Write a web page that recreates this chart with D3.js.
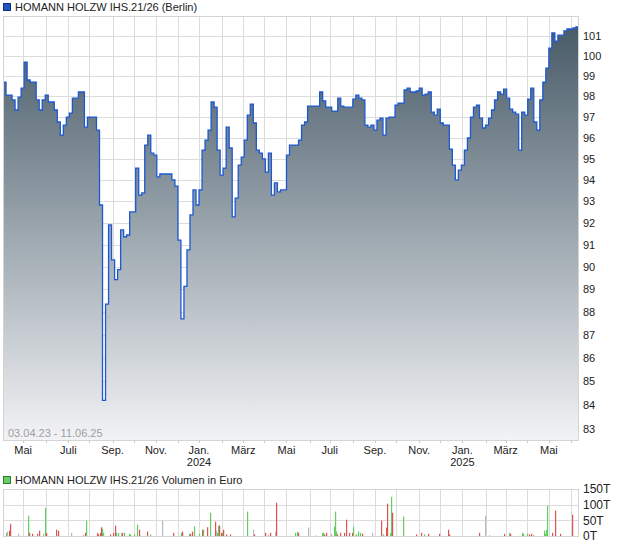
<!DOCTYPE html>
<html>
<head>
<meta charset="utf-8">
<script src="https://cdn.jsdelivr.net/npm/d3@7"></script>
<style>
body { margin: 0; background: #fff; }
text { font-family: "Liberation Sans", Arial, sans-serif; font-size: 11px; fill: #222; }
</style>
</head>
<body>
<script>
// chart data
const title = "HOMANN HOLZW IHS.21/26 (Berlin)";
const volTitle = "HOMANN HOLZW IHS.21/26 Volumen in Euro";
const rangeLabel = "03.04.23 - 11.06.25";
const startDate = new Date(2023, 3, 3);
const endDate = new Date(2025, 5, 11);
const monthNames = ["Jan.", "Feb.", "März", "Apr.", "Mai", "Juni", "Juli", "Aug.", "Sep.", "Okt.", "Nov.", "Dez."];
const priceTicks = [83, 84, 85, 86, 87, 88, 89, 90, 91, 92, 93, 94, 95, 96, 97, 98, 99, 100, 101];
const volTicks = [0, 50, 100, 150];
const volTickLabels = ["0T", "50T", "100T", "150T"];

// one closing price every 3 trading days
const priceStep = 3;
const prices = [
  98.71, 98.07, 98.07, 97.83, 97.34, 97.97, 98.41, 99.70, 98.81, 98.71,
  98.71, 97.83, 97.34, 97.83, 98.07, 97.73, 97.73, 97.34, 96.76, 96.13,
  96.61, 97.00, 97.19, 97.92, 97.92, 98.22, 98.22, 96.51, 97.00, 97.00,
  97.00, 96.37, 92.83, 84.20, 88.35, 91.91, 90.32, 89.43, 89.88, 91.68,
  91.37, 91.45, 92.51, 92.51, 94.56, 93.29, 93.39, 95.65, 96.13, 95.27,
  95.17, 94.14, 94.28, 94.28, 94.28, 94.28, 94.00, 93.71, 91.22, 87.70,
  89.13, 90.77, 92.37, 93.53, 92.83, 93.53, 95.41, 95.89, 96.37, 97.73,
  97.48, 95.41, 94.23, 94.56, 96.51, 95.51, 92.28, 93.15, 94.70, 95.08,
  95.89, 97.09, 97.63, 96.71, 95.41, 95.27, 94.99, 94.37, 95.27, 93.29,
  93.86, 93.44, 93.53, 93.53, 95.17, 95.65, 95.65, 95.65, 95.89, 96.61,
  96.76, 97.53, 97.53, 97.53, 97.53, 98.22, 97.78, 97.48, 97.48, 97.29,
  97.29, 97.92, 97.53, 97.48, 97.48, 97.48, 97.87, 98.07, 97.92, 97.83,
  96.61, 96.51, 96.61, 96.37, 96.85, 96.95, 96.13, 96.95, 97.00, 97.00,
  97.58, 97.68, 97.68, 98.32, 98.41, 98.22, 98.22, 98.27, 98.41, 98.07,
  98.12, 98.22, 97.24, 97.09, 97.38, 96.71, 96.61, 96.61, 95.46, 94.70,
  94.00, 94.46, 94.70, 95.41, 95.99, 97.00, 97.48, 97.58, 96.95, 96.47,
  96.61, 96.95, 97.34, 97.83, 98.22, 98.12, 98.36, 97.92, 97.38, 97.24,
  97.14, 95.41, 97.24, 97.09, 97.87, 98.41, 96.76, 96.37, 97.83, 98.71,
  99.40, 100.40, 101.16, 100.75, 101.05, 101.05, 101.26, 101.36, 101.36, 101.41,
  101.46
];

// volume: trading day number, thousand euro, direction (1 up, -1 down, 0 unchanged)
const volDay = [3, 4, 6, 7, 15, 25, 26, 29, 34, 36, 40, 42, 43, 53, 55, 68, 80, 82, 83, 94,
  95, 96, 97, 98, 99, 106, 109, 111, 112, 114, 117, 118, 120, 125, 126, 130, 133, 135, 143, 146,
  158, 169, 177, 178, 185, 186, 188, 190, 195, 198, 199, 203, 206, 211, 212, 213, 214, 215, 217, 218,
  219, 222, 226, 243, 249, 250, 261, 264, 266, 271, 272, 290, 292, 293, 303, 310, 317, 318, 319, 321,
  326, 329, 330, 331, 332, 335, 339, 341, 344, 347, 348, 350, 351, 353, 355, 357, 367, 376, 378, 381,
  382, 385, 386, 387, 398, 411, 416, 419, 423, 434, 443, 444, 474, 479, 483, 498, 503, 504, 516, 517,
  521, 523, 525, 527, 538, 539, 540, 541, 546, 549, 554, 566];
const volK = [10, 14, 17, 39, 7, 65, 10, 7, 7, 17, 7, 90, 10, 20, 17, 10, 2, 10, 49, 10,
  5, 10, 28, 23, 10, 5, 10, 33, 10, 10, 10, 10, 10, 7, 5, 5, 36, 20, 14, 5,
  49, 10, 10, 14, 7, 7, 14, 31, 7, 20, 20, 28, 74, 46, 17, 10, 33, 33, 10, 10,
  20, 5, 5, 78, 20, 5, 10, 2, 10, 14, 106, 10, 14, 10, 27, 2, 10, 10, 5, 10,
  7, 30, 78, 14, 5, 10, 10, 52, 10, 10, 30, 2, 5, 14, 10, 7, 10, 49, 5, 27,
  103, 10, 125, 74, 62, 5, 10, 5, 7, 7, 20, 5, 10, 65, 2, 7, 10, 7, 10, 7,
  7, 5, 7, 2, 17, 7, 20, 97, 10, 81, 7, 68];
const volDir = [1, 0, -1, -1, 0, 1, -1, -1, -1, -1, 0, 1, -1, -1, -1, 0, -1, -1, 1, -1,
  -1, -1, -1, 1, 1, -1, -1, -1, 1, 1, 0, -1, 1, 1, 1, 1, 1, -1, -1, 1,
  0, -1, 1, -1, 1, -1, -1, 1, 1, -1, 1, -1, 1, -1, 0, 1, 1, -1, -1, 1,
  -1, -1, -1, 1, 0, -1, -1, -1, -1, 0, -1, 1, 1, -1, 0, 0, 1, 1, -1, -1,
  0, 1, 1, 1, -1, -1, -1, -1, -1, -1, 1, 0, 1, 1, 1, -1, 0, -1, 1, -1,
  -1, 1, 1, -1, 1, -1, -1, 1, -1, -1, -1, -1, -1, 0, 1, -1, 1, -1, 1, 1,
  1, -1, -1, -1, 1, 1, 1, 1, -1, -1, -1, -1];

const svg = d3.select("body").append("svg")
  .attr("width", 620)
  .attr("height", 546);

// trading days (weekdays) between start and end
const days = [];
for (let d = new Date(startDate); d <= endDate; d.setDate(d.getDate() + 1)) {
  if (d.getDay() !== 0 && d.getDay() !== 6) days.push(new Date(d));
}
const last = days.length - 1;

const left = 3, right = 578;
const pTop = 16, pBottom = 440;
const vTop = 489, vBottom = 536;

const x = d3.scaleLinear().domain([0, last]).range([left, right]);
const y = d3.scaleLog().domain([82.55, 102.02]).range([pBottom, pTop]);
const yv = d3.scaleLinear().domain([0, 150]).range([vBottom, vTop]);

// first trading day of every month
const monthStarts = [];
days.forEach((d, i) => {
  if (i > 0 && d.getMonth() !== days[i - 1].getMonth()) monthStarts.push(i);
});

const gridColor = "#dcdcdc";

//price panel background and grid
svg.append("rect")
  .attr("x", left).attr("y", pTop)
  .attr("width", right - left).attr("height", pBottom - pTop)
  .style("fill", "#fff");

svg.selectAll(".hgrid")
  .data(priceTicks)
  .join("line")
  .attr("class", "hgrid")
  .attr("x1", left).attr("x2", right)
  .attr("y1", d => Math.round(y(d)) + 0.5).attr("y2", d => Math.round(y(d)) + 0.5)
  .style("stroke", gridColor);

svg.selectAll(".vgrid")
  .data(monthStarts)
  .join("line")
  .attr("class", "vgrid")
  .attr("x1", d => Math.round(x(d)) + 0.5).attr("x2", d => Math.round(x(d)) + 0.5)
  .attr("y1", pTop).attr("y2", pBottom)
  .style("stroke", gridColor);

// gradient under the price line
const grad = svg.append("defs").append("linearGradient")
  .attr("id", "fillGrad")
  .attr("gradientUnits", "userSpaceOnUse")
  .attr("x1", 0).attr("x2", 0).attr("y1", pTop).attr("y2", pBottom);
grad.append("stop").attr("offset", "0%").attr("stop-color", "#445764");
grad.append("stop").attr("offset", "50%").attr("stop-color", "#9aa5ad");
grad.append("stop").attr("offset", "100%").attr("stop-color", "#f2f3f5");

const pts = prices.map((p, i) => ({ i: i * priceStep, p: p }));
pts.push({ i: last, p: prices[prices.length - 1] });

const area = d3.area()
  .curve(d3.curveStepAfter)
  .x(d => x(d.i))
  .y0(pBottom)
  .y1(d => y(d.p));

const line = d3.line()
  .curve(d3.curveStepAfter)
  .x(d => x(d.i))
  .y(d => y(d.p));

svg.append("path")
  .datum(pts)
  .attr("d", area)
  .style("fill", "url(#fillGrad)");

svg.append("path")
  .datum(pts)
  .attr("d", line)
  .style("fill", "none")
  .style("stroke", "#1c58d2")
  .style("stroke-width", 1.3);

// frame
svg.append("rect")
  .attr("x", left + 0.5).attr("y", pTop + 0.5)
  .attr("width", right - left).attr("height", pBottom - pTop)
  .style("fill", "none").style("stroke", "#d4d4d4");

svg.append("text")
  .attr("x", 8).attr("y", 437)
  .style("fill", "#a0a0a0")
  .text(rangeLabel);

// price labels on the right
svg.selectAll(".plabel")
  .data(priceTicks)
  .join("text")
  .attr("class", "plabel")
  .attr("x", 583)
  .attr("y", d => y(d))
  .attr("dy", "0.35em")
  .text(d => d);

// month ticks and labels
svg.selectAll(".mtick")
  .data(monthStarts)
  .join("line")
  .attr("class", "mtick")
  .attr("x1", d => Math.round(x(d)) + 0.5).attr("x2", d => Math.round(x(d)) + 0.5)
  .attr("y1", pBottom).attr("y2", pBottom + 3)
  .style("stroke", "#ccc");

const labeled = monthStarts.filter(i => days[i].getMonth() % 2 === 0);
svg.selectAll(".mlabel")
  .data(labeled)
  .join("text")
  .attr("class", "mlabel")
  .attr("x", d => x(d))
  .attr("y", 454)
  .style("text-anchor", "middle")
  .text(d => monthNames[days[d].getMonth()]);

svg.selectAll(".ylabel")
  .data(labeled.filter(i => days[i].getMonth() === 0))
  .join("text")
  .attr("class", "ylabel")
  .attr("x", d => x(d))
  .attr("y", 466)
  .style("text-anchor", "middle")
  .text(d => days[d].getFullYear());

// legends
svg.append("rect")
  .attr("x", 3.5).attr("y", 3.5).attr("width", 7).attr("height", 7)
  .style("fill", "#1f56c4").style("stroke", "#10307a");
svg.append("text").attr("x", 15).attr("y", 11).text(title);

svg.append("rect")
  .attr("x", 3.5).attr("y", 476.5).attr("width", 7).attr("height", 7)
  .style("fill", "#66cc66").style("stroke", "#2f7d2f");
svg.append("text").attr("x", 15).attr("y", 484).text(volTitle);

// volume panel
svg.selectAll(".vhgrid")
  .data(volTicks)
  .join("line")
  .attr("class", "vhgrid")
  .attr("x1", left).attr("x2", right)
  .attr("y1", d => Math.round(yv(d)) + 0.5).attr("y2", d => Math.round(yv(d)) + 0.5)
  .style("stroke", gridColor);

svg.selectAll(".vvgrid")
  .data(monthStarts)
  .join("line")
  .attr("class", "vvgrid")
  .attr("x1", d => Math.round(x(d)) + 0.5).attr("x2", d => Math.round(x(d)) + 0.5)
  .attr("y1", vTop).attr("y2", vBottom)
  .style("stroke", gridColor);

svg.append("rect")
  .attr("x", left + 0.5).attr("y", vTop + 0.5)
  .attr("width", right - left).attr("height", vBottom - vTop)
  .style("fill", "none").style("stroke", "#d4d4d4");

const volColor = (dir) => {
  if (dir > 0) {
    return "#5fd05f"
  } else if (dir < 0) {
    return "#e05252"
  }
  return "#b8b8b8"
}

const vols = volDay.map((d, i) => ({ d: d, v: volK[i], dir: volDir[i] }));
svg.selectAll(".vbar")
  .data(vols)
  .join("rect")
  .attr("class", "vbar")
  .attr("x", d => Math.round(x(d.d)))
  .attr("width", 1.2)
  .attr("y", d => yv(d.v))
  .attr("height", d => yv(0) - yv(d.v))
  .style("fill", d => volColor(d.dir));

svg.selectAll(".vlabel")
  .data(volTicks)
  .join("text")
  .attr("class", "vlabel")
  .attr("x", 583)
  .attr("y", d => yv(d))
  .attr("dy", "0.35em")
  .style("font-size", "12px")
  .text((d, i) => volTickLabels[i]);
</script>
</body>
</html>
